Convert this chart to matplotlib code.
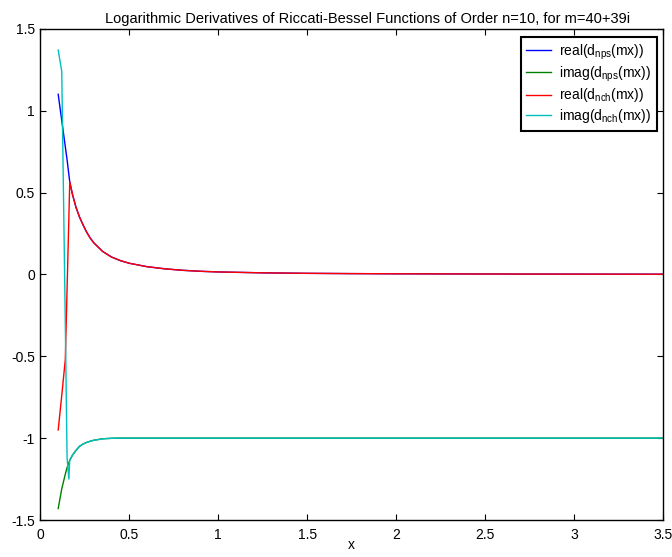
import matplotlib
matplotlib.use("Agg")
import matplotlib.pyplot as plt

plt.rcParams['font.family'] = ['Liberation Sans', 'DejaVu Sans']
plt.rcParams['mathtext.fontset'] = 'custom'
plt.rcParams['mathtext.rm'] = 'Liberation Sans'

title = "Logarithmic Derivatives of Riccati-Bessel Functions of Order n=10, for m=40+39i"
xlabel = "x"
labels = [r"real(d$_{\rm nps}$(mx))", r"imag(d$_{\rm nps}$(mx))",
          r"real(d$_{\rm nch}$(mx))", r"imag(d$_{\rm nch}$(mx))"]

x = [0.10, 0.12, 0.14, 0.15, 0.16, 0.165, 0.18, 0.20, 0.22, 0.24, 0.26, 0.28, 0.30,
     0.35, 0.40, 0.45, 0.50, 0.60, 0.70, 0.80, 0.90, 1.00, 1.25, 1.50, 1.75, 2.00,
     2.50, 3.00, 3.50]

real_nps = [1.10, 0.94, 0.78, 0.70, 0.61, 0.565, 0.49, 0.41, 0.35, 0.302, 0.258, 0.222, 0.193,
            0.140, 0.106, 0.084, 0.068, 0.047, 0.034, 0.025, 0.019, 0.015, 0.0095, 0.0065, 0.0048, 0.0037,
            0.0024, 0.0017, 0.0012]
imag_nps = [-1.43, -1.31, -1.22, -1.18, -1.15, -1.135, -1.105, -1.075, -1.05, -1.036, -1.026, -1.019, -1.013,
            -1.004, -1.001, -1.0, -1.0, -1.0, -1.0, -1.0, -1.0, -1.0, -1.0, -1.0, -1.0, -1.0,
            -1.0, -1.0, -1.0]
real_nch = [-0.95, -0.74, -0.52, -0.088, 0.344, 0.565, 0.49, 0.41, 0.35, 0.302, 0.258, 0.222, 0.193,
            0.140, 0.106, 0.084, 0.068, 0.047, 0.034, 0.025, 0.019, 0.015, 0.0095, 0.0065, 0.0048, 0.0037,
            0.0024, 0.0017, 0.0012]
imag_nch = [1.37, 1.24, -0.30, -1.12, -1.25, -1.135, -1.105, -1.075, -1.05, -1.036, -1.026, -1.019, -1.013,
            -1.004, -1.001, -1.0, -1.0, -1.0, -1.0, -1.0, -1.0, -1.0, -1.0, -1.0, -1.0, -1.0,
            -1.0, -1.0, -1.0]

series = [real_nps, imag_nps, real_nch, imag_nch]
colors = ['#0000ff', '#008000', '#ff0000', '#00bfbf']

xticks = [0, 0.5, 1, 1.5, 2, 2.5, 3, 3.5]
xticklabels = ['0', '0.5', '1', '1.5', '2', '2.5', '3', '3.5']
yticks = [-1.5, -1, -0.5, 0, 0.5, 1, 1.5]
yticklabels = ['-1.5', '-1', '-0.5', '0', '0.5', '1', '1.5']

fig = plt.figure(figsize=(6.72, 5.57), dpi=100)
W, H = 672, 557
ax = fig.add_axes([40.4 / W, 1 - 520 / H, (663 - 40.4) / W, (520 - 28.8) / H])

for s, c, lab in zip(series, colors, labels):
    ax.plot(x, s, color=c, lw=1.0, label=lab)

ax.set_xlim(0, 3.5)
ax.set_ylim(-1.5, 1.5)
ax.set_xticks(xticks)
ax.set_xticklabels(xticklabels)
ax.set_yticks(yticks)
ax.set_yticklabels(yticklabels)
ax.tick_params(direction='in', top=True, right=True, length=4.5, width=0.8,
               labelsize=10, pad=6)
ax.tick_params(axis='y', pad=4)
for sp in ax.spines.values():
    sp.set_linewidth(1.0)
    sp.set_color('black')

ax.set_xlabel(xlabel, fontsize=10, va='top')
ax.xaxis.set_label_coords(0.5, -(538 - 520) / (520 - 28.8))
fig.text(368 / W, 1 - 19 / H, title, ha='center', va='center', fontsize=10.5)

leg = ax.legend(loc='upper right', bbox_to_anchor=(0.9899, 0.984), borderaxespad=0,
                fontsize=10, frameon=True, fancybox=False, framealpha=1,
                edgecolor='black', handlelength=1.75, handletextpad=0.6,
                labelspacing=0.2, borderpad=0.4)
leg.get_frame().set_linewidth(1.5)

fig.savefig('out.png', dpi=100)
